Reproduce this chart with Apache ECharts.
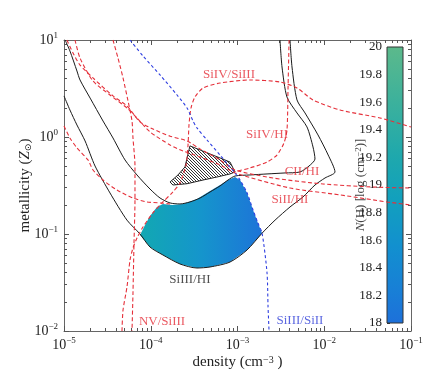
<!DOCTYPE html>
<html><head><meta charset="utf-8">
<script src="https://cdn.jsdelivr.net/npm/echarts@6/dist/echarts.min.js"></script>
<style>html,body{margin:0;padding:0;background:#fff}#c{width:436px;height:387px}</style>
</head><body><div id="c"></div>
<script>
// ---------------- data (density cm^-3, metallicity Zsun) ----------------
const xRange = [1e-5, 1e-1];
const yRange = [1e-2, 10];
const cbRange = [18, 20];
const cbTickStep = 0.2;

// SiIII/HI constraint band: inner and outer black contours
const siIIIHIinner = [[1.03e-5,10],[1.17e-5,7.71],[1.41e-5,4.79],[1.53e-5,3.87],[2.0e-5,2.52],[2.82e-5,1.46],[3.67e-5,0.977],[5.05e-5,0.58],[6.94e-5,0.406],[9.8e-5,0.291],[1.28e-4,0.235],[1.67e-4,0.209],[2.17e-4,0.204],[2.83e-4,0.214],[3.7e-4,0.235],[4.82e-4,0.271],[6.29e-4,0.313],[7.77e-4,0.36],[9.36e-4,0.396],[1.39e-3,0.406],[2.19e-3,0.416],[3.53e-3,0.426],[5.25e-3,0.436],[6.67e-3,0.502],[7.82e-3,0.593],[7.42e-3,0.789],[6.32e-3,1.27],[4.85e-3,1.77],[3.72e-3,2.58],[3.26e-3,5.27],[3.09e-3,10]];
const siIIIHIouter = [[1.0e-5,2.65],[1.17e-5,1.9],[1.41e-5,1.33],[1.75e-5,0.91],[2.28e-5,0.502],[3.39e-5,0.265],[5.32e-5,0.139],[7.52e-5,0.1],[9.8e-5,0.0734],[1.38e-4,0.0608],[2.17e-4,0.0491],[3.41e-4,0.0446],[4.82e-4,0.0457],[8.2e-4,0.0514],[1.29e-3,0.0685],[1.92e-3,0.102],[2.71e-3,0.139],[4.03e-3,0.19],[5.69e-3,0.241],[7.82e-3,0.32],[1.02e-2,0.378],[1.33e-2,0.436],[1.11e-2,0.652],[8.47e-3,1.05],[6.0e-3,1.77],[4.85e-3,2.41],[4.25e-3,5.27],[4.03e-3,10]];

// red dashed ratio curves
const ciiHI = [[1.08e-5,10],[1.27e-5,7.35],[1.53e-5,5.52],[2.16e-5,4.06],[3.67e-5,2.65],[5.32e-5,2.09],[7.52e-5,1.43],[1.06e-4,1.21],[1.67e-4,1.02],[2.62e-4,0.91],[3.7e-4,0.752],[6.29e-4,0.58],[9.36e-4,0.457],[2.57e-3,0.378],[9.67e-3,0.328],[3.65e-2,0.305],[0.1,0.298]];
const siiHI = [[1.34e-5,10],[1.53e-5,6.52],[2.16e-5,3.78],[3.39e-5,2.71],[5.32e-5,1.99],[6.94e-5,1.57],[9.8e-5,1.13],[1.67e-4,0.828],[2.35e-4,0.718],[3.7e-4,0.622],[6.29e-4,0.514],[9.36e-4,0.426],[4.03e-3,0.298],[1.52e-2,0.253],[5.29e-2,0.214],[0.1,0.199]];
const sivSiIII = [[4.66e-5,0.01],[4.79e-5,0.0164],[5.32e-5,0.0284],[5.77e-5,0.054],[6.24e-5,0.0718],[6.94e-5,0.091],[8.14e-5,0.118],[1.06e-4,0.165],[1.38e-4,0.214],[1.8e-4,0.271],[2.17e-4,0.336],[2.55e-4,0.514],[2.69e-4,0.828],[2.76e-4,1.33],[2.91e-4,1.99],[3.23e-4,2.58],[4.0e-4,3.2],[6.29e-4,3.6],[1.39e-3,3.87],[3.09e-3,3.69],[4.85e-3,3.2],[7.42e-3,2.41],[1.52e-2,1.9],[4.39e-2,1.57],[0.1,1.27]];
const sivHI = [[3.93e-3,10],[3.82e-3,3.05],[3.72e-3,1.18],[3.43e-3,0.867],[2.85e-3,0.652],[2.19e-3,0.552],[1.39e-3,0.479],[8.87e-4,0.436]];
const nvSiIII = [[3.67e-5,10],[4.19e-5,6.52],[4.79e-5,4.06],[5.47e-5,2.35],[6.08e-5,1.46],[6.24e-5,0.977],[6.58e-5,0.502],[6.58e-5,0.224],[6.41e-5,0.0807],[6.24e-5,0.0247],[6.08e-5,0.01]];
const extraRed = [[1.0e-5,1.3],[1.17e-5,0.977],[1.41e-5,0.771],[1.89e-5,0.58],[2.16e-5,0.457],[2.82e-5,0.36],[4.08e-5,0.284],[6.24e-5,0.235],[9.06e-5,0.214],[1.28e-4,0.209],[1.67e-4,0.204]];
// blue dashed
const siIIISiII = [[5.77e-5,10],[8.14e-5,6.84],[1.28e-4,4.36],[2.01e-4,2.71],[2.62e-4,1.99],[3.07e-4,1.46],[3.41e-4,1.24],[4.45e-4,0.931],[6.29e-4,0.652],[8.2e-4,0.491],[9.36e-4,0.426],[1.07e-3,0.36],[1.29e-3,0.265],[1.51e-3,0.177],[1.72e-3,0.13],[1.92e-3,0.102],[2.19e-3,0.0396],[2.25e-3,0.0177],[2.31e-3,0.01]];

// allowed (filled) region and hatched region
const allowedRegion = [[7.52e-5,0.0977],[8.59e-5,0.124],[9.8e-5,0.153],[1.18e-4,0.19],[1.38e-4,0.204],[1.76e-4,0.199],[2.35e-4,0.204],[3.41e-4,0.23],[4.82e-4,0.277],[6.29e-4,0.32],[7.77e-4,0.36],[9.36e-4,0.387],[1.07e-3,0.36],[1.29e-3,0.265],[1.51e-3,0.177],[1.72e-3,0.13],[1.92e-3,0.102],[1.29e-3,0.0685],[8.2e-4,0.0514],[4.82e-4,0.0457],[3.41e-4,0.0446],[2.17e-4,0.0491],[1.38e-4,0.0608],[9.8e-5,0.0734]];
const hatchedRegion = [[2.83e-4,0.81],[4.22e-4,0.701],[6.29e-4,0.608],[8.2e-4,0.552],[9.36e-4,0.436],[8.2e-4,0.416],[5.81e-4,0.387],[4.0e-4,0.36],[2.62e-4,0.33],[1.8e-4,0.32],[1.67e-4,0.344],[2.06e-4,0.406],[2.48e-4,0.491]];

// curve labels
const labelNames = ['SiIV/SiIII','SiIV/HI','CII/HI','SiII/HI','SiIII/HI','NV/SiIII','SiIII/SiII'];
const labelX = [7.98e-4, 2.19e-3, 5.54e-3, 4.03e-3, 2.83e-4, 1.35e-4, 5.25e-3];
const labelY = [4.36, 1.05, 0.436, 0.224, 0.0336, 0.0124, 0.0127];

// ---------------- styles ----------------
const FONT = "'Liberation Serif','DejaVu Serif',serif";
const RED = '#e5303a', BLUE = '#2f3fe0', BLACK = '#1a1a1a';
const labelColor = {'SiIII/HI': '#222', 'SiIII/SiII': '#2f3fd8'};

const xMajor = [], xMinor = [], yMajor = [], yMinor = [];
for (let d = Math.round(Math.log10(xRange[0])); d <= Math.round(Math.log10(xRange[1])); d++) {
  xMajor.push(Math.pow(10, d));
  if (d < Math.round(Math.log10(xRange[1]))) for (let k = 2; k <= 9; k++) xMinor.push(k * Math.pow(10, d));
}
for (let d = Math.round(Math.log10(yRange[0])); d <= Math.round(Math.log10(yRange[1])); d++) {
  yMajor.push(Math.pow(10, d));
  if (d < Math.round(Math.log10(yRange[1]))) for (let k = 2; k <= 9; k++) yMinor.push(k * Math.pow(10, d));
}

const powRich = {
  b: {fontSize: 14, fontFamily: FONT, color: '#222', lineHeight: 18},
  s: {fontSize: 9, fontFamily: FONT, color: '#222', verticalAlign: 'top', lineHeight: 10}
};
function powFmt(v) {
  const e = Math.round(Math.log10(v));
  return '{b|10}{s|' + (e < 0 ? '\u2212' + (-e) : e) + '}';
}

function logAxis(dim, pos, kind) {
  const isX = dim === 'x';
  return {
    type: 'log', logBase: 10, gridIndex: 0, position: pos,
    min: isX ? xRange[0] : yRange[0], max: isX ? xRange[1] : yRange[1],
    axisLine: {show: kind === 'major', onZero: false, lineStyle: {color: '#666', width: 1}},
    axisTick: {show: true, inside: true, length: kind === 'major' ? 5 : 3,
      customValues: kind === 'major' ? (isX ? xMajor : yMajor) : (isX ? xMinor : yMinor),
      lineStyle: {color: '#555', width: 1}},
    axisLabel: {show: false},
    splitLine: {show: false}, minorTick: {show: false}
  };
}

const xAxes = [logAxis('x', 'bottom', 'major'), logAxis('x', 'bottom', 'minor'), logAxis('x', 'top', 'major'), logAxis('x', 'top', 'minor')];
const yAxes = [logAxis('y', 'left', 'major'), logAxis('y', 'left', 'minor'), logAxis('y', 'right', 'major'), logAxis('y', 'right', 'minor')];

xAxes[0].axisLabel = {show: true, margin: 5, formatter: powFmt, rich: powRich, customValues: xMajor};
xAxes[0].name = 'density (cm{s|\u22123} )';
xAxes[0].nameLocation = 'middle';
xAxes[0].nameGap = 24;
xAxes[0].nameMoveOverlap = false;
xAxes[0].nameTextStyle = {fontFamily: FONT, fontSize: 15, color: '#222',
  rich: {s: {fontSize: 10, fontFamily: FONT, color: '#222', verticalAlign: 'top', lineHeight: 11}}};

yAxes[0].axisLabel = {show: true, margin: 6, formatter: powFmt, rich: powRich, customValues: yMajor};
yAxes[0].name = 'metallicity ({z|Z}{u|\u2299})';
yAxes[0].nameLocation = 'middle';
yAxes[0].nameGap = 31;
yAxes[0].nameRotate = 90;
yAxes[0].nameMoveOverlap = false;
yAxes[0].nameTextStyle = {fontFamily: FONT, fontSize: 15, color: '#222',
  rich: {z: {fontFamily: FONT, fontSize: 15, fontStyle: 'italic', color: '#222'},
         u: {fontFamily: "'DejaVu Sans',sans-serif", fontSize: 9, color: '#222', verticalAlign: 'bottom'}}};

// colorbar axes (grid 1)
xAxes.push({type: 'category', gridIndex: 1, data: [''], show: false, boundaryGap: true});
yAxes.push({
  type: 'value', gridIndex: 1, position: 'left', min: cbRange[0], max: cbRange[1], interval: cbTickStep,
  axisLine: {show: false},
  axisTick: {show: true, inside: true, length: 3, lineStyle: {color: '#333'}},
  axisLabel: {margin: 5, fontFamily: FONT, fontSize: 13, color: '#222',
    formatter: v => String(Math.round(v * 10) / 10)},
  splitLine: {show: false},
  name: '{i|N}(H) [log (cm{s|\u22122})]', nameLocation: 'middle', nameRotate: 90, nameGap: 20,
  nameMoveOverlap: false,
  nameTextStyle: {fontFamily: FONT, fontSize: 13, color: '#444',
    rich: {i: {fontFamily: FONT, fontSize: 13, fontStyle: 'italic', color: '#444'},
           s: {fontFamily: FONT, fontSize: 9, color: '#444', verticalAlign: 'top', lineHeight: 10}}}
});

// hatch pattern
const T = 3;
const pc = document.createElement('canvas');
pc.width = T; pc.height = T;
const g = pc.getContext('2d');
g.fillStyle = '#fff'; g.fillRect(0, 0, T, T);
g.strokeStyle = '#1e1e1e'; g.lineWidth = 0.9;
g.beginPath();
g.moveTo(-1, -1); g.lineTo(T + 1, T + 1);
g.moveTo(-T - 1, -1); g.lineTo(1, T + 1);
g.moveTo(T - 1, -1); g.lineTo(2 * T + 1, T + 1);
g.stroke();

function polySeries(points, style, z) {
  return {
    type: 'custom', xAxisIndex: 0, yAxisIndex: 0, data: points, z: z, silent: true,
    renderItem: function (params, api) {
      if (params.dataIndex !== 0) return null;
      return {type: 'polygon', shape: {points: points.map(p => api.coord(p))}, style: style};
    }
  };
}
function curve(data, color, dash, z, width) {
  return {type: 'line', xAxisIndex: 0, yAxisIndex: 0, data: data, symbol: 'none', smooth: 0.25,
    silent: true, z: z, lineStyle: {color: color, width: width || 1, type: dash}};
}

const series = [
  polySeries(allowedRegion, {
    fill: new echarts.graphic.LinearGradient(0, 0, 1, 0, [
      {offset: 0, color: '#12a8b2'}, {offset: 0.5, color: '#1595cc'}, {offset: 1, color: '#1d74d8'}]),
    stroke: 'none'}, 1),
  polySeries(hatchedRegion, {fill: {image: pc, repeat: 'repeat'}, stroke: '#222', lineWidth: 1}, 2),
  curve(siIIIHIinner, BLACK, 'solid', 3),
  curve(siIIIHIouter, BLACK, 'solid', 3),
  curve(ciiHI, RED, [4, 2.5], 4, 1.1),
  curve(siiHI, RED, [4, 2.5], 4, 1.1),
  curve(sivSiIII, RED, [4, 2.5], 4, 1.1),
  curve(sivHI, RED, [4, 2.5], 4, 1.1),
  curve(nvSiIII, RED, [4, 2.5], 4, 1.1),
  curve(extraRed, RED, [4, 2.5], 4, 1.1),
  curve(siIIISiII, BLUE, [3, 2.5], 4, 1.1),
  {
    type: 'scatter', xAxisIndex: 0, yAxisIndex: 0, symbolSize: 0, silent: true, z: 6,
    data: labelNames.map((n, i) => ({name: n, value: [labelX[i], labelY[i]],
      label: {color: labelColor[n] || RED}})),
    label: {show: true, position: 'inside', formatter: p => p.name, fontFamily: FONT, fontSize: 13}
  },
  {
    type: 'custom', xAxisIndex: 4, yAxisIndex: 4, data: [[0, cbRange[1]]], silent: true, z: 2,
    renderItem: function (params, api) {
      const top = api.coord([0, cbRange[1]]);
      const bot = api.coord([0, cbRange[0]]);
      const w = api.size([1, 0])[0];
      return {type: 'rect', shape: {x: top[0] - w / 2, y: top[1], width: w, height: bot[1] - top[1]},
        style: {fill: new echarts.graphic.LinearGradient(0, 0, 0, 1, [
          {offset: 0, color: '#5cb98b'}, {offset: 0.2, color: '#3cb19c'}, {offset: 0.4, color: '#1ea8ad'},
          {offset: 0.55, color: '#12a0bd'}, {offset: 0.72, color: '#1290cf'}, {offset: 0.9, color: '#197dd7'},
          {offset: 1, color: '#1d70da'}]), stroke: '#333', lineWidth: 1}};
    }
  }
];

const chart = echarts.init(document.getElementById('c'), null, {renderer: 'canvas'});
chart.setOption({
  animation: false,
  backgroundColor: '#fff',
  grid: [
    {left: 64, top: 40, width: 347, height: 291, containLabel: false},
    {left: 387, top: 47, width: 16, height: 276, containLabel: false}
  ],
  xAxis: xAxes,
  yAxis: yAxes,
  series: series
});
</script>
</body></html>
